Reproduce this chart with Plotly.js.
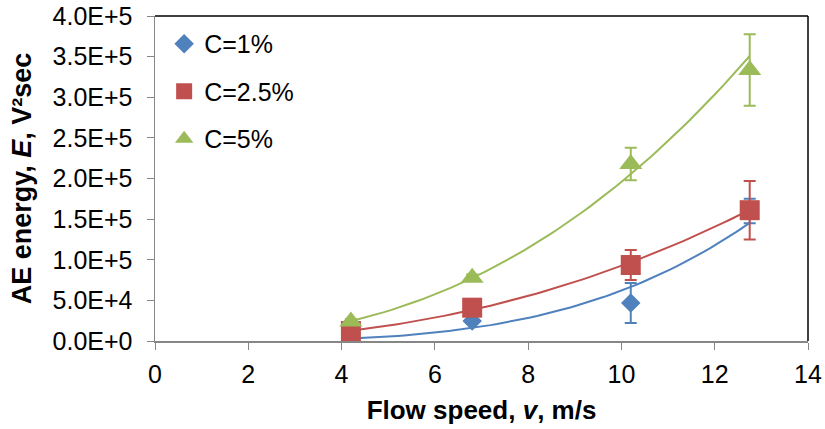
<!DOCTYPE html>
<html><head><meta charset="utf-8">
<script src="https://cdn.plot.ly/plotly-3.0.1.min.js"></script>
<style>body{margin:0;background:#fff}#c{width:825px;height:429px}</style>
</head><body><div id="c"></div>
<script>
const speeds = [4.2, 6.8, 10.2, 12.75];
const c1 = [2500, 24600, 46800, 160000];
const c1Err = [1500, 3000, 24600, 15000];
const c25 = [12300, 41000, 93500, 161000];
const c25Err = [3000, 4000, 18500, 36000];
const c5 = [24000, 78000, 218000, 333500];
const c5Err = [3000, 4000, 20000, 44000];
const names = ['C=1%', 'C=2.5%', 'C=5%'];
const xTickVals = [0, 2, 4, 6, 8, 10, 12, 14];
const yTickVals = [0, 50000, 100000, 150000, 200000, 250000, 300000, 350000, 400000];
const yTickText = ['0.0E+0','5.0E+4','1.0E+5','1.5E+5','2.0E+5','2.5E+5','3.0E+5','3.5E+5','4.0E+5'];

const colors = ['#4F81BD', '#C0504D', '#9BBB59'];
const symbols = ['diamond', 'square', 'triangle-up'];
const sizes = [15, 20, 20];
const series = [c1, c25, c5];
const errs = [c1Err, c25Err, c5Err];

// Power-law trendline (least squares in log space, like a spreadsheet power trendline)
function powerFit(xs, ys) {
  const lx = xs.map(Math.log), ly = ys.map(Math.log);
  const n = xs.length;
  const mx = lx.reduce((a,b)=>a+b,0)/n, my = ly.reduce((a,b)=>a+b,0)/n;
  let sxy = 0, sxx = 0;
  for (let i=0;i<n;i++){ sxy += (lx[i]-mx)*(ly[i]-my); sxx += (lx[i]-mx)**2; }
  const b = sxy/sxx, a = Math.exp(my - b*mx);
  const x0 = Math.min(...xs), x1 = Math.max(...xs);
  const tx = [], ty = [];
  for (let k=0;k<=60;k++){ const x = x0 + (x1-x0)*k/60; tx.push(x); ty.push(a*Math.pow(x,b)); }
  return {tx, ty};
}

const traces = [];
series.forEach((ys, i) => {
  const f = powerFit(speeds, ys);
  traces.push({x: f.tx, y: f.ty, type: 'scatter', mode: 'lines', showlegend: false,
    line: {color: colors[i], width: 2}, hoverinfo: 'skip'});
});
series.forEach((ys, i) => {
  traces.push({
    x: speeds, y: ys, name: names[i], type: 'scatter', mode: 'markers', legendgroup: 'g' + i,
    marker: {symbol: symbols[i], size: sizes[i], color: colors[i]},
    error_y: {type: 'data', array: errs[i], visible: true, color: colors[i], thickness: 2, width: 6}
  });
});

const font = {family: '"Liberation Sans", Arial, sans-serif', color: '#000'};
const layout = {
  width: 825, height: 429,
  margin: {l: 155, r: 17, t: 16, b: 88},
  paper_bgcolor: '#fff', plot_bgcolor: '#fff',
  font: Object.assign({size: 25}, font),
  showlegend: true,
  legend: {x: 0.014, y: 0.985, xanchor: 'left', yanchor: 'top', font: Object.assign({size: 25}, font),
    bgcolor: 'rgba(0,0,0,0)', tracegroupgap: 12, itemwidth: 30},
  xaxis: {range: [0, 14], tickvals: xTickVals, showgrid: false, zeroline: false,
    showline: true, linecolor: '#868686', linewidth: 1.5, ticks: 'outside', ticklen: 7, tickcolor: '#868686',
    tickfont: Object.assign({size: 25}, font), ticklabelstandoff: 3,
    title: {text: '<b>Flow speed, <i>v</i>, m/s</b>', font: Object.assign({size: 26}, font), standoff: 14}},
  yaxis: {range: [0, 400000], tickvals: yTickVals, ticktext: yTickText, showgrid: false, zeroline: false,
    showline: true, linecolor: '#868686', linewidth: 1.5, ticks: 'outside', ticklen: 7, tickcolor: '#868686',
    tickfont: Object.assign({size: 25}, font), ticklabelstandoff: 9,
    title: {text: '<b>AE energy, <i>E</i>, V²sec</b>', font: Object.assign({size: 27}, font), standoff: 13}},
  shapes: [
    {type: 'line', xref: 'paper', yref: 'paper', x0: 0, x1: 1, y0: 1, y1: 1, line: {color: '#000', width: 1.5}},
    {type: 'line', xref: 'paper', yref: 'paper', x0: 1, x1: 1, y0: 0, y1: 1, line: {color: '#000', width: 1.5}}
  ]
};
Plotly.newPlot('c', traces, layout, {displayModeBar: false, staticPlot: true});
</script></body></html>
